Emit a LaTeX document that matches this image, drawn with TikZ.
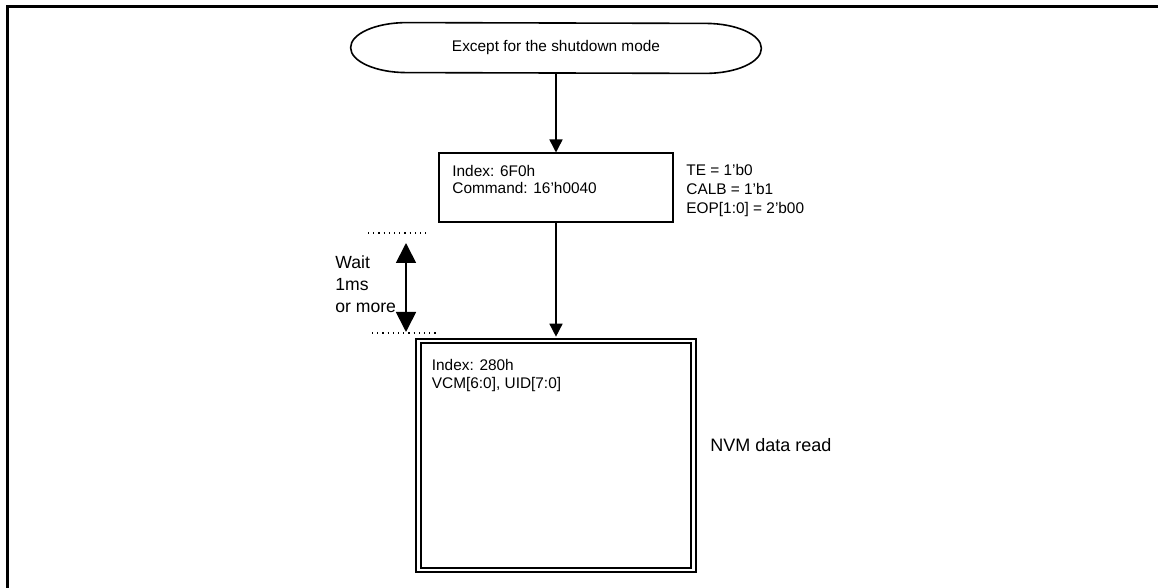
\documentclass[tikz,border=0pt]{standalone}
\usepackage{fontspec}
\setmainfont{Liberation Sans}
\usetikzlibrary{arrows.meta,positioning,calc}

\begin{document}
\begin{tikzpicture}[
    x=0.5pt, y=-0.5pt,
    every node/.style={font=\fontsize{7.7}{8.5}\selectfont},
    termshape/.style={rectangle, inner sep=0pt, minimum width=149pt, minimum height=25pt},
    cmdbox/.style={rectangle, draw, line width=1pt, minimum width=117pt, minimum height=34.5pt},
    readbox/.style={rectangle, draw, line width=1pt, double, double distance=1.3pt, minimum width=137.5pt, minimum height=114.5pt},
    note/.style={inner sep=0pt, align=left},
    arrow/.style={-{Triangle[width=6.5pt,length=6.5pt]}, line width=0.75pt},
    waitarrow/.style={{Triangle[width=10pt,length=10pt]}-{Triangle[width=10pt,length=10pt]}, line width=0.85pt},
    guide/.style={dotted, line width=0.6pt}
]
\useasboundingbox (0,0) rectangle (1158,588);
% frame
\draw[line width=1.1pt] (7.5,600) |- (1170,6.5);

\node[termshape] (start) at (556,48) {Except for the shutdown mode};
\draw[line width=0.8pt] (start.north west)
    arc[start angle=90, end angle=270, x radius=28pt, y radius=12.5pt] -- (start.south east)
    arc[start angle=-90, end angle=90, x radius=28pt, y radius=12.5pt] -- cycle;

\node[cmdbox] (cmd) at (556,188) {};
\node[note, anchor=north west] (cmdtxt) at ([shift={(7pt,-6.25pt)}]cmd.north west) {Index: 6F0h\\Command: 16'h0040};
\node[note, anchor=north west, font=\fontsize{7.7}{9.5}\selectfont] (flags) at (686,163.5) {TE = 1'b0\\CALB = 1'b1\\EOP[1:0] = 2'b00};

\node[readbox] (read) at (556,455.5) {};
\node[note, anchor=north west, font=\fontsize{7.7}{9}\selectfont] (readtxt) at ([shift={(7pt,-9.25pt)}]read.north west) {Index: 280h\\VCM[6:0], UID[7:0]};
\node[note, anchor=west, font=\fontsize{9}{11}\selectfont] (nvm) at (710,445) {NVM data read};

% wait time
\coordinate (gtop) at (406,233);
\coordinate (gbot) at (406,333);
\draw[guide] ([xshift=-19pt]gtop) -- ([xshift=12pt]gtop);
\draw[guide] ([xshift=-17pt]gbot) -- ([xshift=16pt]gbot);
\draw[waitarrow] ([yshift=-5pt]gtop) -- ([yshift=0.5pt]gbot);
\node[note, anchor=north west, font=\fontsize{8.8}{11}\selectfont] (wait) at (335,255.5) {Wait\\1ms\\or more};

\draw[arrow] (start) -- (cmd);
\draw[arrow, shorten >=1.65pt] (cmd) -- (read);
\end{tikzpicture}
\end{document}
